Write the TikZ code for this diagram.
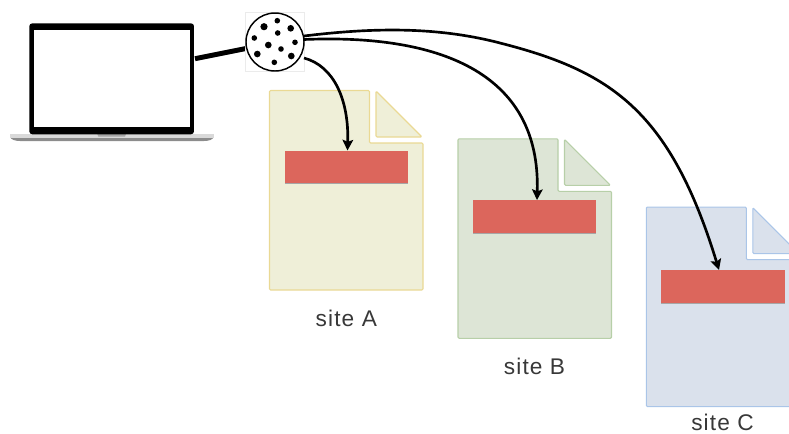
\documentclass[tikz,border=0pt]{standalone}
\usepackage{fontspec}
\setmainfont{Liberation Sans}
\newfontfamily\sitefont[LetterSpace=5]{Liberation Sans}
\usetikzlibrary{arrows.meta,calc}
\definecolor{fillA}{HTML}{EFEFD8}\definecolor{lineA}{HTML}{EAD994}
\definecolor{fillB}{HTML}{DDE5D6}\definecolor{lineB}{HTML}{B7CFA8}
\definecolor{fillC}{HTML}{DAE1EC}\definecolor{lineC}{HTML}{AAC5E8}
\definecolor{redbar}{HTML}{DC665C}
\tikzset{
 px/.style={x=0.75pt,y=-0.75pt},
 bar/.style={draw=none,fill=redbar,minimum width=92.4pt,minimum height=24.6pt,inner sep=0pt,outer sep=0pt,
   preaction={fill=black!35,transform canvas={yshift=-0.7pt}}},
 sitelabel/.style={text=black!78,font=\sitefont\fontsize{17pt}{19pt}\selectfont,inner sep=0pt,anchor=base},
 link/.style={line width=2pt,-{Stealth[length=8pt,width=8pt,inset=1.5pt]},black},
 dot/.style={fill=black,draw=none,circle,inner sep=0pt},
 pg/.style={line width=0.8pt,line join=round,rounded corners=0.8pt}
}
\newcommand{\sitedoc}[4]{% dx, dy, fill, line
 \begin{scope}[shift={(#1,#2)}]
  \draw[pg,draw=#4,fill=#3] (269.5,90.5) -- (369.5,90.5) -- (369.5,143) -- (423,143) -- (423,290) -- (269.5,290) -- cycle;
  \draw[pg,draw=#4,fill=#3] (376,91) -- (422,137) -- (376,137) -- cycle;
 \end{scope}}
\begin{document}
\begin{tikzpicture}[px]
\useasboundingbox (0,0) rectangle (789,433);
% documents
\sitedoc{0}{0}{fillA}{lineA}
\sitedoc{188.5}{48.3}{fillB}{lineB}
\sitedoc{376.8}{116.6}{fillC}{lineC}
\node[bar] (barA) at (346.2,167) {};
\node[bar] (barB) at (534.7,216.5) {};
\node[bar] (barC) at (723,286.5) {};
\node[sitelabel] (labA) at (346.3,326) {site A};
\node[sitelabel] (labB) at (534.5,374) {site B};
\node[sitelabel] (labC) at (722.5,430) {site C};
% laptop
\path[fill=black!45] (10,134) -- (213.7,134) -- (213.7,137) .. controls (213,139.5) and (209,141) .. (204,141) -- (20,141) .. controls (15,141) and (11,139.5) .. (10,137) -- cycle;
\path[fill=black!15] (10,134) rectangle (213.7,138);
\path[fill=black!35] (97.3,134) -- (126,134) -- (125,136.5) -- (98.3,136.5) -- cycle;
\node[draw=none,fill=black,rounded corners=2.2pt,minimum width=123.5pt,minimum height=83.2pt,inner sep=0pt,outer sep=0pt] (laptop) at (111.65,78.8) {};
\node[fill=white,minimum width=116.5pt,minimum height=72.8pt,inner sep=0pt] (screen) at (112,78.8) {};
% link laptop - cookie
\coordinate (laptopR) at (195,58.7);
\coordinate (cookieL) at (246,48.5);
\draw[line width=3.7pt] (laptopR) -- (cookieL);
% cookie
\node[draw=black!8,line width=0.5pt,fill=white,minimum size=44.5pt,inner sep=0pt,outer sep=0pt] (cookiebox) at (275,42) {};
\node[draw=black,line width=1.1pt,fill=white,circle,minimum size=43.5pt,inner sep=0pt,outer sep=0pt] (cookie) at (275,42) {};
\foreach \x/\y/\d in {264/26.7/5.4,277.3/20.7/4.2,290.7/28.3/5,254.3/38/4.2,277.7/33/4.2,295/42.3/4.2,268.3/45/5,281/49/4.2,257.3/54/5,291.3/56/5,274.3/62.3/4.2}
  \node[dot,minimum size=\d pt] at (\x,\y) {};
% arrows
\coordinate (startA) at (304,58);
\coordinate (startB) at (304,39.5);
\coordinate (startC) at (304,36);
\coordinate (midC) at (500,43);
\coordinate (tipA) at (347.5,150.5);
\coordinate (tipB) at (537,200);
\coordinate (tipC) at (719,270);
\draw[link] (startA) .. controls (334,66) and (349,100) .. (tipA);
\draw[link] (startB) .. controls (435,34) and (541,70) .. (tipB);
\draw[link] (startC) .. controls (370,28) and (435,26) .. (midC) .. controls (610,71) and (670,110) .. (tipC);
\end{tikzpicture}
\end{document}
